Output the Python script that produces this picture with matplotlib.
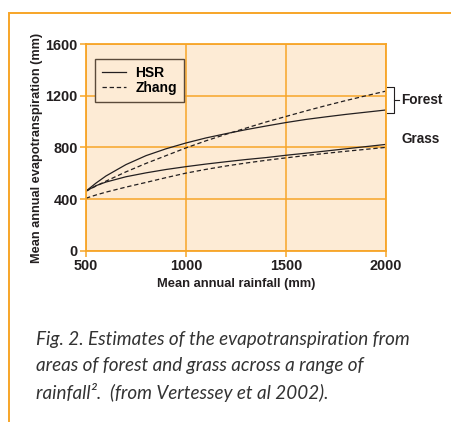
import matplotlib.pyplot as plt
from matplotlib.lines import Line2D

rainfall = [500, 550, 600, 700, 800, 900, 1000, 1100, 1200, 1300, 1400,
            1500, 1600, 1700, 1800, 1900, 2000]
forest_hsr = [463, 525, 580, 668, 737, 790, 835, 874, 907, 938, 966,
              993, 1017, 1037, 1056, 1073, 1090]
forest_zhang = [462, 502, 540, 612, 677, 737, 797, 852, 902, 950, 997,
                1040, 1083, 1124, 1163, 1200, 1236]
grass_hsr = [463, 505, 533, 574, 604, 630, 652, 672, 690, 707, 722,
             740, 756, 773, 790, 807, 824]
grass_zhang = [408, 433, 455, 494, 530, 567, 602, 631, 657, 680, 701,
               720, 738, 755, 771, 786, 801]

xticks = [500, 1000, 1500, 2000]
yticks = [0, 400, 800, 1200, 1600]

orange = '#F7A528'
peach = '#FDEBD5'
ink = '#231F20'
bold_font = ['Liberation Sans', 'DejaVu Sans']

W, H = 451, 423
fig = plt.figure(figsize=(W / 100, H / 100), dpi=100)

# orange frame of the figure box
frame = fig.add_axes([0, 0, 1, 1])
frame.set_xlim(0, W)
frame.set_ylim(H, 0)
frame.axis('off')
frame.plot([9, 9, W], [421, 13, 13], color=orange, lw=1.4, solid_joinstyle='miter')

ax = fig.add_axes([86 / W, 1 - 251 / H, 300 / W, 207 / H])
ax.set_facecolor(peach)
ax.set_xlim(500, 2000)
ax.set_ylim(0, 1600)
ax.set_xticks(xticks)
ax.set_yticks(yticks)
ax.grid(True, color=orange, lw=1.1)
ax.set_axisbelow(True)
for s in ax.spines.values():
    s.set_color(orange)
    s.set_linewidth(1.3)
ax.tick_params(colors=orange, length=4, width=1.1, labelcolor=ink, pad=2)
for lab in ax.get_xticklabels() + ax.get_yticklabels():
    lab.set_family(bold_font)
    lab.set_weight('bold')
    lab.set_size(10.4)

dash = (0, (3.5, 2.2))
ax.plot(rainfall, forest_hsr, color=ink, lw=0.9)
ax.plot(rainfall, forest_zhang, color=ink, lw=0.9, ls=dash)
ax.plot(rainfall, grass_hsr, color=ink, lw=0.9)
ax.plot(rainfall, grass_zhang, color=ink, lw=0.9, ls=dash)

ax.set_xlabel('Mean annual rainfall (mm)', family=bold_font, weight='bold',
              size=9.3, color=ink, labelpad=3)
ax.set_ylabel('Mean annual evapotranspiration (mm)', family=bold_font,
              weight='bold', size=9.2, color=ink, labelpad=2)

handles = [Line2D([], [], color=ink, lw=0.9),
           Line2D([], [], color=ink, lw=0.9, ls=dash)]
leg = ax.legend(handles, ['HSR', 'Zhang'], loc='upper left',
                bbox_to_anchor=(0.03, 0.928), borderaxespad=0,
                fancybox=False, handlelength=1.75, handletextpad=0.65,
                labelspacing=0.1, borderpad=0.5,
                prop={'family': bold_font, 'weight': 'bold', 'size': 10})
leg.get_frame().set_facecolor(peach)
leg.get_frame().set_edgecolor('#5A4A3A')
leg.get_frame().set_linewidth(1.0)
leg.get_frame().set_alpha(1)

# bracket for the forest pair
frame.plot([387, 394, 394, 387], [87, 87, 113, 113], color=ink, lw=0.8)
frame.plot([394, 399], [100, 100], color=ink, lw=0.8)
frame.text(401, 100, 'Forest', family=bold_font, weight='bold', size=9.8,
           color=ink, va='center', ha='left')
frame.text(401, 139, 'Grass', family=bold_font, weight='bold', size=9.8,
           color=ink, va='center', ha='left')

caption = ['Fig. 2. Estimates of the evapotranspiration from',
           'areas of forest and grass across a range of',
           'rainfall\u00b2.  (from Vertessey et al 2002).']
for i, line in enumerate(caption):
    frame.text(36, 339 + i * 26.5, line, family=['Lato', 'DejaVu Sans'],
               style='italic', size=13.6, color='#333333', va='center', ha='left')

fig.savefig('out.png', dpi=100)
